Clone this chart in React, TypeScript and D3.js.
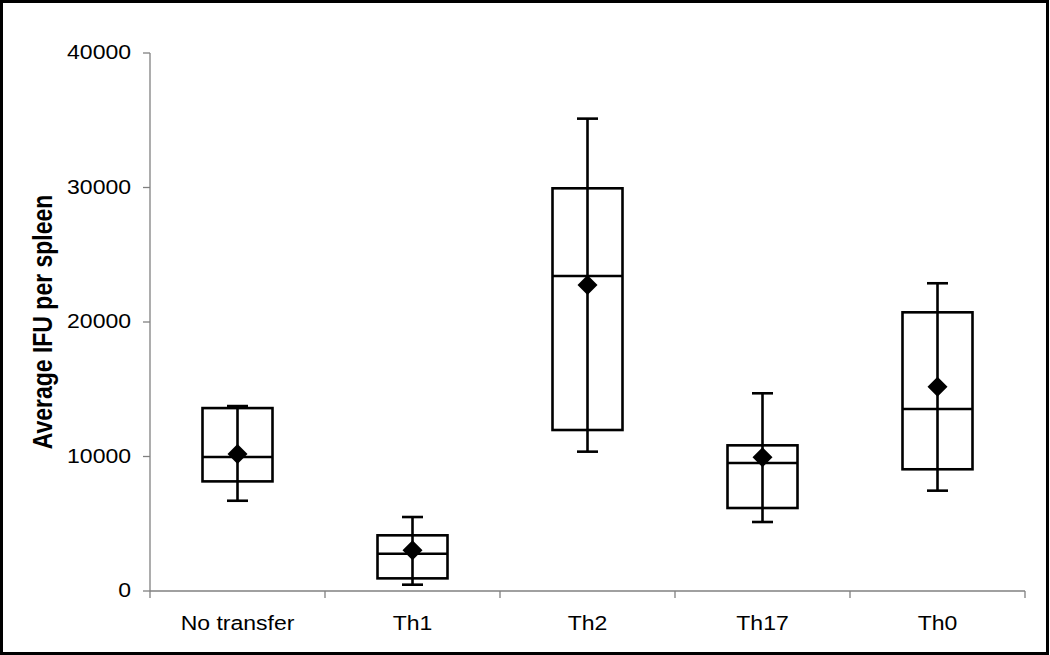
import React from "react";
import * as d3 from "d3";

const WIDTH = 1050;
const HEIGHT = 655;
const PLOT = { left: 150, right: 1025, top: 53, bottom: 591 };
const TEXT_STRETCH = 1.18; // glyphs in the picture are a bit wide

// box plot values
const groups = ["No transfer", "Th1", "Th2", "Th17", "Th0"];
const whiskerLow = [6710, 470, 10360, 5130, 7460];
const boxLow = [8150, 940, 11970, 6170, 9050];
const medians = [9960, 2770, 23420, 9520, 13530];
const boxHigh = [13600, 4140, 29940, 10830, 20720];
const whiskerHigh = [13750, 5500, 35120, 14700, 22880];
const means = [10190, 3030, 22750, 9940, 15190];

const yTicks = [0, 10000, 20000, 30000, 40000];

const BOX_W = 70;
const CAP_W = 21;
const DIAMOND = 10;

export default function App() {
  const x = d3
    .scaleBand<string>()
    .domain(groups)
    .range([PLOT.left, PLOT.right])
    .padding(0);
  const y = d3
    .scaleLinear()
    .domain([0, 40000])
    .range([PLOT.bottom, PLOT.top]);

  const font = "'Liberation Sans', Arial, sans-serif";
  const axisColor = "#808080";

  const boxes = groups.map((g, i) => {
    const cx = (x(g) ?? 0) + x.bandwidth() / 2;
    const yMean = y(means[i]);
    return (
      <g key={g} stroke="#000" strokeWidth={2.6} fill="none">
        {/* whisker */}
        <line x1={cx} x2={cx} y1={y(whiskerLow[i])} y2={y(whiskerHigh[i])} />
        <line x1={cx - CAP_W / 2} x2={cx + CAP_W / 2} y1={y(whiskerLow[i])} y2={y(whiskerLow[i])} />
        <line x1={cx - CAP_W / 2} x2={cx + CAP_W / 2} y1={y(whiskerHigh[i])} y2={y(whiskerHigh[i])} />
        {/* box */}
        <rect
          x={cx - BOX_W / 2}
          y={y(boxHigh[i])}
          width={BOX_W}
          height={y(boxLow[i]) - y(boxHigh[i])}
        />
        <line x1={cx - BOX_W / 2} x2={cx + BOX_W / 2} y1={y(medians[i])} y2={y(medians[i])} />
        {/* mean */}
        <path
          d={`M${cx},${yMean - DIAMOND} L${cx + DIAMOND},${yMean} L${cx},${yMean + DIAMOND} L${cx - DIAMOND},${yMean} Z`}
          fill="#000"
          stroke="none"
        />
      </g>
    );
  });

  const yAxis = (
    <g>
      <line x1={PLOT.left} x2={PLOT.left} y1={PLOT.top} y2={PLOT.bottom} stroke={axisColor} strokeWidth={1.3} />
      {yTicks.map((t) => (
        <g key={t}>
          <line x1={PLOT.left - 7} x2={PLOT.left} y1={y(t)} y2={y(t)} stroke={axisColor} strokeWidth={1.3} />
          <text
            transform={`translate(${PLOT.left - 19},${y(t)}) scale(${TEXT_STRETCH},1)`}
            textAnchor="end"
            dominantBaseline="central"
            fontSize={19.5}
            fontFamily={font}
            fill="#000"
          >
            {t}
          </text>
        </g>
      ))}
    </g>
  );

  const xAxis = (
    <g>
      <line x1={PLOT.left} x2={PLOT.right} y1={PLOT.bottom} y2={PLOT.bottom} stroke={axisColor} strokeWidth={1.3} />
      {groups.map((g) => (
        <line
          key={"t" + g}
          x1={(x(g) ?? 0) + x.bandwidth()}
          x2={(x(g) ?? 0) + x.bandwidth()}
          y1={PLOT.bottom}
          y2={PLOT.bottom + 7}
          stroke={axisColor}
          strokeWidth={1.3}
        />
      ))}
      <line x1={PLOT.left} x2={PLOT.left} y1={PLOT.bottom} y2={PLOT.bottom + 7} stroke={axisColor} strokeWidth={1.3} />
      {groups.map((g) => (
        <text
          key={g}
          transform={`translate(${(x(g) ?? 0) + x.bandwidth() / 2},630) scale(${TEXT_STRETCH},1)`}
          textAnchor="middle"
          fontSize={19.5}
          fontFamily={font}
          fill="#000"
        >
          {g}
        </text>
      ))}
    </g>
  );

  return (
    <svg
      width={WIDTH}
      height={HEIGHT}
      style={{ position: "absolute", left: 0, top: 0, display: "block", background: "#fff" }}
    >
      <rect x={1.5} y={1.5} width={WIDTH - 4} height={HEIGHT - 3} fill="#fff" stroke="#000" strokeWidth={3} />
      {yAxis}
      {xAxis}
      {boxes}
      <text
        transform={`translate(52,${(PLOT.top + PLOT.bottom) / 2}) scale(${TEXT_STRETCH},1) rotate(-90)`}
        textAnchor="middle"
        fontSize={23}
        fontWeight="bold"
        fontFamily={font}
        fill="#000"
      >
        Average IFU per spleen
      </text>
    </svg>
  );
}
